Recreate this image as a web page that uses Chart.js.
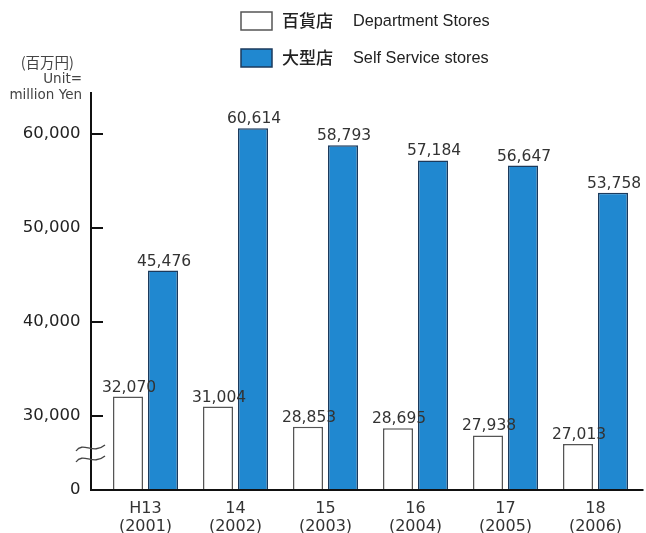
<!DOCTYPE html>
<html>
<head>
<meta charset="utf-8">
<script src="https://cdn.jsdelivr.net/npm/chart.js@4.4.0/dist/chart.umd.min.js"></script>
<style>
html, body { margin: 0; padding: 0; background: #fff; }
canvas { display: block; }
</style>
</head>
<body>
<canvas id="salesChart" width="646" height="533"></canvas>
<script>
// ===================== Data =====================
const eraYears = ['H13', '14', '15', '16', '17', '18'];
const adYears = ['2001', '2002', '2003', '2004', '2005', '2006'];
const deptStoreSales = [32070, 31004, 28853, 28695, 27938, 27013];
const selfServiceSales = [45476, 60614, 58793, 57184, 56647, 53758];
const yTickValues = [30000, 40000, 50000, 60000];
const seriesNames = ['百貨店 Department Stores', '大型店 Self Service stores'];

// axis is broken below 30,000, the bottom of the plot stands for 0
const Y_MIN = 22130;
const Y_MAX = 64470;

const FONT = '"DejaVu Sans", "Noto Sans CJK JP", sans-serif';
const CJK_FONT = '"Noto Sans CJK JP", sans-serif';
const BLUE = '#2088d0';
const BLUE_EDGE = '#1b3a5c';
const WHITE_EDGE = '#555';

// ===================== Extra drawing =====================
const decorations = {
    id: 'decorations',
    afterDatasetsDraw(chart) {
        const ctx = chart.ctx;
        const { left, right, top, bottom } = chart.chartArea;
        const yScale = chart.scales.y;
        const axisX = left - 9.5;

        ctx.save();

        // axes and inner tick marks
        ctx.strokeStyle = '#111';
        ctx.lineWidth = 2;
        ctx.beginPath();
        ctx.moveTo(axisX, top);
        ctx.lineTo(axisX, bottom);
        ctx.moveTo(axisX - 1, bottom);
        ctx.lineTo(right + 3, bottom);
        yTickValues.forEach(v => {
            const py = Math.round(yScale.getPixelForValue(v));
            ctx.moveTo(axisX, py);
            ctx.lineTo(axisX + 12, py);
        });
        ctx.stroke();

        // break mark
        ctx.strokeStyle = '#444';
        ctx.lineWidth = 1.3;
        [448, 459].forEach(wy => {
            ctx.beginPath();
            ctx.moveTo(axisX - 15, wy + 3);
            ctx.bezierCurveTo(axisX - 8, wy - 7, axisX + 2, wy + 7, axisX + 14, wy - 3);
            ctx.stroke();
        });

        // value labels
        ctx.fillStyle = '#333';
        ctx.font = '15.5px ' + FONT;
        ctx.textAlign = 'center';
        ctx.textBaseline = 'alphabetic';
        chart.data.datasets.forEach((ds, i) => {
            chart.getDatasetMeta(i).data.forEach((bar, j) => {
                ctx.fillText(ds.data[j].toLocaleString('en-US'), bar.x + 1, bar.y - 5);
            });
        });

        // legend
        chart.data.datasets.forEach((ds, i) => {
            const by = 12 + i * 37;
            ctx.fillStyle = ds.backgroundColor;
            ctx.fillRect(241, by, 31, 18);
            ctx.strokeStyle = ds.borderColor;
            ctx.lineWidth = 1.5;
            ctx.strokeRect(241, by, 31, 18);
            const [cjk, ...rest] = ds.label.split(' ');
            ctx.fillStyle = '#222';
            ctx.textAlign = 'left';
            ctx.textBaseline = 'middle';
            ctx.font = '500 17px ' + CJK_FONT;
            ctx.fillText(cjk, 282, by + 9);
            ctx.font = '16.3px "Liberation Sans", Arial, sans-serif';
            ctx.fillText(rest.join(' '), 353, by + 10);
        });

        // unit title
        ctx.fillStyle = '#444';
        ctx.textAlign = 'right';
        ctx.textBaseline = 'middle';
        ctx.font = '14.5px ' + CJK_FONT;
        ctx.fillText('(百万円)', 74, 62);
        ctx.font = '13.5px ' + FONT;
        ctx.fillText('Unit=', 82, 79);
        ctx.fillText('million Yen', 82, 95);

        ctx.restore();
    }
};

// ===================== Chart Setup =====================
function setupChart() {
    new Chart(document.getElementById('salesChart').getContext('2d'), {
        type: 'bar',
        data: {
            labels: eraYears.map((e, i) => [e, '(' + adYears[i] + ')']),
            datasets: [{
                label: seriesNames[0],
                data: deptStoreSales,
                backgroundColor: '#ffffff',
                borderColor: WHITE_EDGE,
                borderWidth: 1.5,
                barPercentage: 0.857,
                categoryPercentage: 0.778
            }, {
                label: seriesNames[1],
                data: selfServiceSales,
                backgroundColor: BLUE,
                borderColor: BLUE_EDGE,
                borderWidth: 1.5,
                barPercentage: 0.857,
                categoryPercentage: 0.778
            }]
        },
        options: {
            responsive: false,
            animation: false,
            devicePixelRatio: 1,
            layout: { padding: { left: 23.5, right: 5.5, top: 92, bottom: 0 } },
            plugins: {
                legend: { display: false },
                tooltip: { enabled: false }
            },
            scales: {
                x: {
                    grid: { display: false, drawTicks: false },
                    border: { display: false },
                    ticks: {
                        color: '#333',
                        padding: 10,
                        maxRotation: 0,
                        autoSkip: false,
                        font: { family: FONT, size: 16, lineHeight: 1.125 }
                    },
                    afterFit: scale => { scale.height = 43; }
                },
                y: {
                    min: Y_MIN,
                    max: Y_MAX,
                    grid: { display: false, drawTicks: false },
                    border: { display: false },
                    afterBuildTicks: scale => {
                        scale.ticks = [Y_MIN, ...yTickValues].map(v => ({ value: v }));
                    },
                    ticks: {
                        color: '#222',
                        padding: 20,
                        font: { family: FONT, size: 16.5 },
                        callback: v => (v === Y_MIN ? '0' : v.toLocaleString('en-US'))
                    },
                    afterFit: scale => { scale.width = 77; }
                }
            }
        },
        plugins: [decorations]
    });
}

document.addEventListener('DOMContentLoaded', setupChart);
</script>
</body>
</html>
